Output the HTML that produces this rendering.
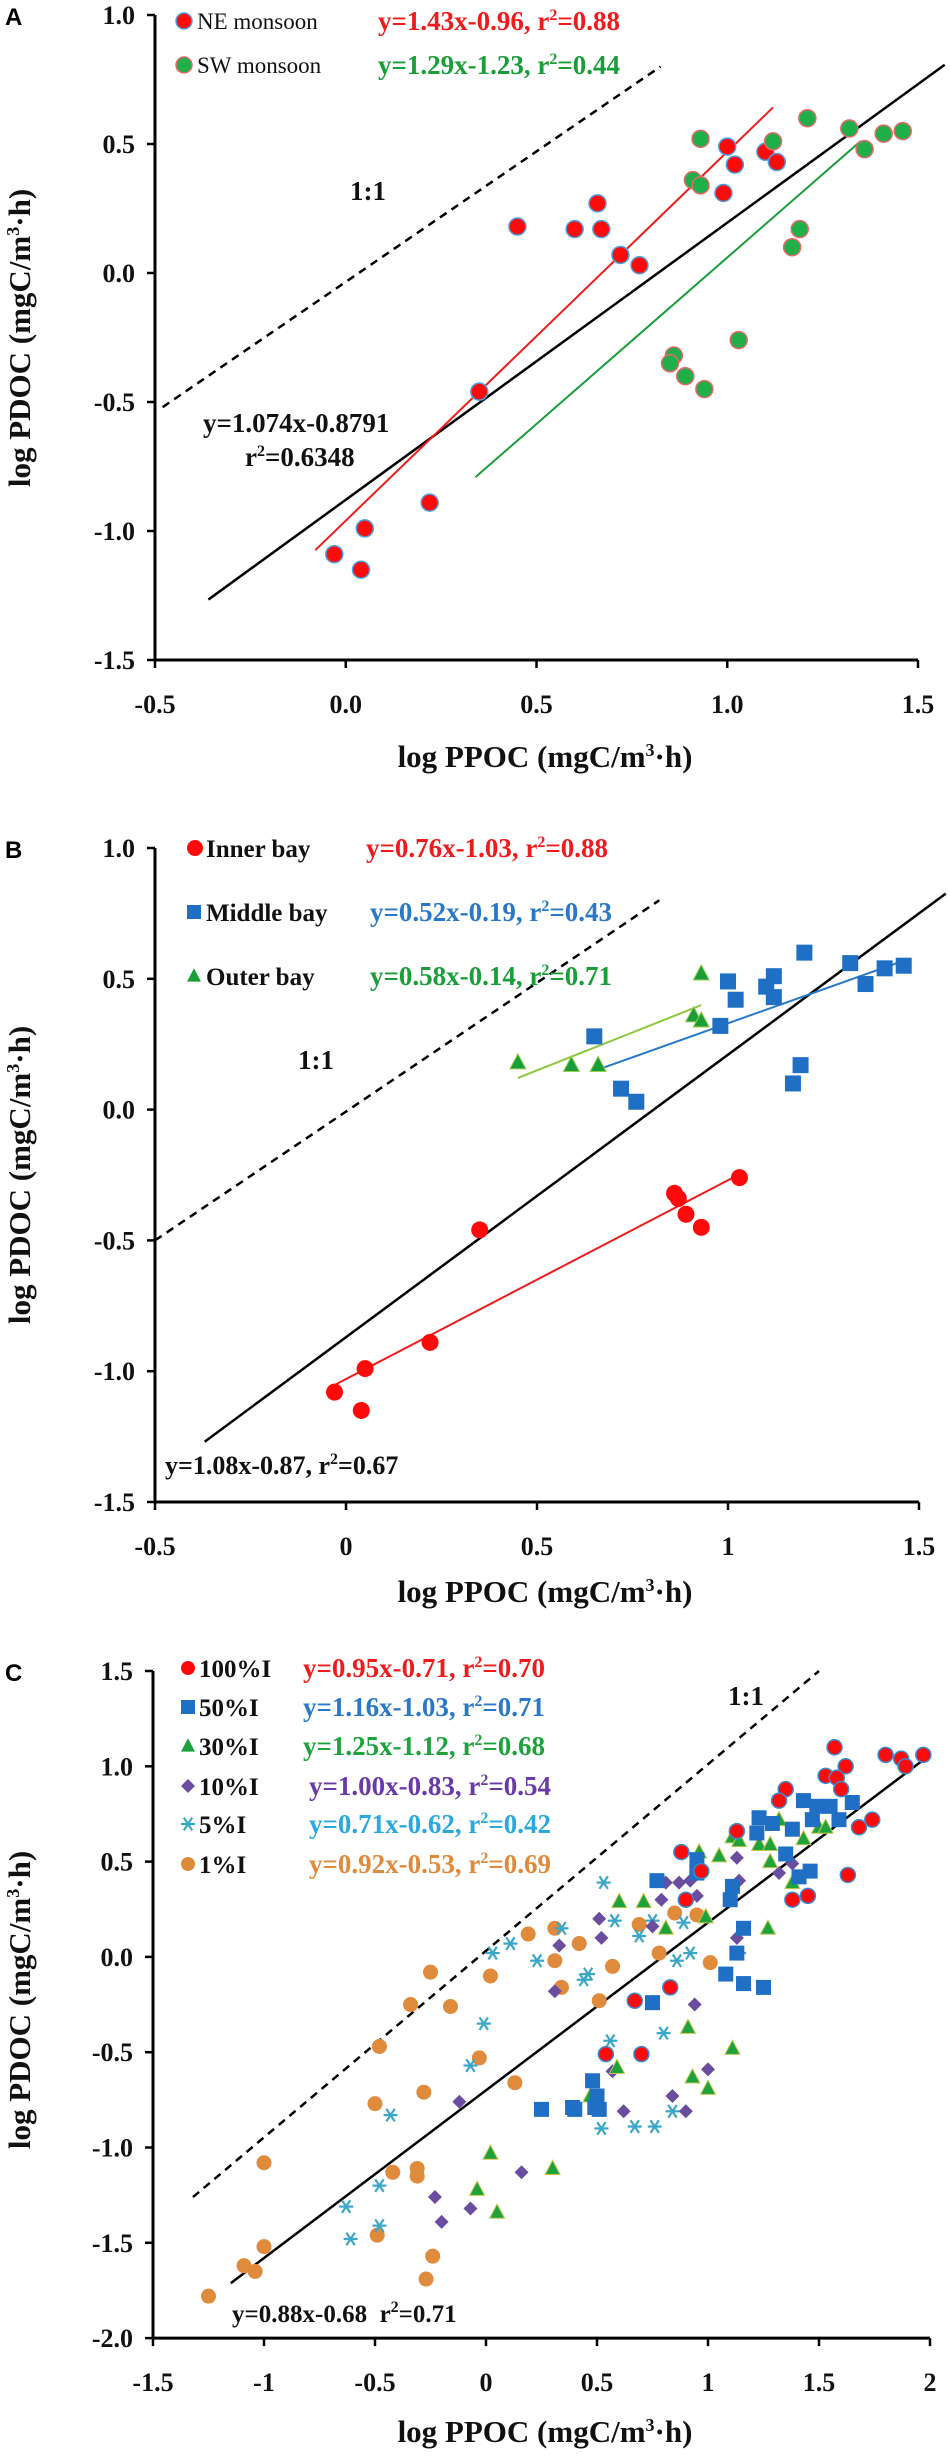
<!DOCTYPE html>
<html><head><meta charset="utf-8"><style>
html,body{margin:0;padding:0;background:#fff}
svg{display:block}
text{font-family:"Liberation Serif",serif}
.tk{font-weight:bold;font-size:26px;fill:#111}
.ttl{font-weight:bold;font-size:31px;fill:#111}
.lg{font-size:23px;fill:#111}
.lgb{font-weight:bold;font-size:25px;fill:#111}
.eq{font-weight:bold;font-size:27px}
.eqs{font-weight:bold;font-size:26px}
.pl{font-family:"Liberation Sans",sans-serif;font-weight:bold;font-size:24px;fill:#000}
</style></head><body>
<svg id="fig" width="950" height="2464" viewBox="0 0 950 2464" xmlns="http://www.w3.org/2000/svg"></svg>
<script>
// ---------- Panel A data ----------
const aNeX=[-0.03,0.04,0.05,0.22,0.35,0.45,0.60,0.66,0.67,0.72,0.77,0.99,1.00,1.02,1.10,1.13];
const aNeY=[-1.09,-1.15,-0.99,-0.89,-0.46,0.18,0.17,0.27,0.17,0.07,0.03,0.31,0.49,0.42,0.47,0.43];
const aSwX=[0.93,0.91,0.93,1.12,1.21,1.32,1.36,1.41,1.46,1.19,1.17,1.03,0.86,0.85,0.89,0.94];
const aSwY=[0.52,0.36,0.34,0.51,0.60,0.56,0.48,0.54,0.55,0.17,0.10,-0.26,-0.32,-0.35,-0.40,-0.45];
const aTicksX=["-0.5","0.0","0.5","1.0","1.5"];
const aTicksY=["-1.5","-1.0","-0.5","0.0","0.5","1.0"];
// ---------- Panel B data ----------
const bInX=[-0.03,0.04,0.05,0.22,0.35,0.86,0.87,0.89,0.93,1.03];
const bInY=[-1.08,-1.15,-0.99,-0.89,-0.46,-0.32,-0.34,-0.40,-0.45,-0.26];
const bMidX=[0.65,0.72,0.76,0.98,1.00,1.02,1.10,1.12,1.12,1.20,1.17,1.19,1.32,1.36,1.41,1.46];
const bMidY=[0.28,0.08,0.03,0.32,0.49,0.42,0.47,0.51,0.43,0.60,0.10,0.17,0.56,0.48,0.54,0.55];
const bOutX=[0.45,0.59,0.66,0.91,0.93,0.93];
const bOutY=[0.18,0.17,0.17,0.36,0.34,0.52];
const bTicksX=["-0.5","0","0.5","1","1.5"];
const bTicksY=["-1.5","-1.0","-0.5","0.0","0.5","1.0"];
// ---------- Panel C data ----------
const c100X=[1.57,1.80,1.87,1.89,1.97,1.53,1.62,1.58,1.60,1.35,1.32,1.13,0.88,1.74,1.68,1.63,1.45,1.38,0.83,0.67,0.54,0.70,0.97,0.90];
const c100Y=[1.10,1.06,1.04,1.00,1.06,0.95,1.00,0.94,0.88,0.88,0.82,0.66,0.55,0.72,0.68,0.43,0.32,0.30,-0.16,-0.23,-0.51,-0.51,0.45,0.30];
const c50X=[1.43,1.23,1.29,1.38,1.49,1.55,1.65,1.59,1.47,1.22,1.35,1.46,1.41,0.95,0.77,0.95,1.11,1.10,1.16,1.13,1.08,1.16,1.25,0.75,0.48,0.50,0.39,0.49,0.25,0.40,0.51];
const c50Y=[0.82,0.73,0.70,0.67,0.79,0.79,0.81,0.72,0.72,0.65,0.54,0.45,0.42,0.51,0.40,0.44,0.37,0.30,0.15,0.02,-0.09,-0.14,-0.16,-0.24,-0.65,-0.73,-0.79,-0.79,-0.80,-0.80,-0.80];
const c30X=[1.32,1.11,1.14,0.96,1.05,1.23,1.28,1.28,1.43,1.50,1.53,1.38,0.60,0.71,0.99,0.81,1.27,0.91,1.11,0.93,1.00,0.59,0.47,0.02,-0.04,0.05,0.30];
const c30Y=[0.72,0.63,0.61,0.55,0.53,0.59,0.59,0.50,0.62,0.68,0.68,0.39,0.29,0.29,0.21,0.15,0.15,-0.37,-0.48,-0.63,-0.69,-0.58,-0.73,-1.03,-1.22,-1.34,-1.11];
const c10X=[1.13,1.14,0.81,0.87,0.92,0.95,0.79,1.32,1.38,0.51,0.52,0.33,1.13,0.75,0.31,0.94,0.57,1.00,0.62,0.84,0.90,-0.12,0.16,-0.23,-0.07,-0.20];
const c10Y=[0.52,0.40,0.39,0.39,0.40,0.32,0.30,0.44,0.49,0.20,0.10,0.06,0.10,0.16,-0.18,-0.25,-0.60,-0.59,-0.81,-0.73,-0.81,-0.76,-1.13,-1.26,-1.32,-1.39];
const c5X=[0.53,0.58,0.69,0.89,0.75,0.34,0.92,0.86,0.44,0.46,1.14,0.80,0.56,0.03,0.11,0.23,-0.01,-0.07,0.52,0.67,0.76,0.84,-0.43,-0.63,-0.61,-0.48,-0.48];
const c5Y=[0.39,0.19,0.11,0.18,0.19,0.15,0.02,-0.02,-0.12,-0.09,0.02,-0.40,-0.44,0.02,0.07,-0.02,-0.35,-0.57,-0.90,-0.89,-0.89,-0.81,-0.83,-1.31,-1.48,-1.20,-1.41];
const c1X=[-1.25,-1.09,-1.04,-1.00,-1.00,-0.49,-0.42,-0.31,-0.31,-0.24,-0.27,-0.50,-0.28,-0.48,-0.03,0.13,-0.34,-0.16,-0.25,0.02,0.19,0.31,0.42,0.31,0.34,0.51,0.57,0.69,0.78,0.85,0.95,1.01];
const c1Y=[-1.78,-1.62,-1.65,-1.52,-1.08,-1.46,-1.13,-1.11,-1.15,-1.57,-1.69,-0.77,-0.71,-0.47,-0.53,-0.66,-0.25,-0.26,-0.08,-0.10,0.12,0.15,0.07,-0.02,-0.16,-0.23,-0.05,0.17,0.02,0.23,0.22,-0.03];
const cTicksX=["-1.5","-1","-0.5","0","0.5","1","1.5","2"];
const cTicksY=["-2.0","-1.5","-1.0","-0.5","0.0","0.5","1.0","1.5"];

const NS="http://www.w3.org/2000/svg";
const svg=document.getElementById('fig');
function mk(tag,attrs,parent,txt){const e=document.createElementNS(NS,tag);for(const k in attrs)e.setAttribute(k,attrs[k]);if(txt!==undefined)e.textContent=txt;(parent||svg).appendChild(e);return e;}

function panel(cfg){
  const g=mk('g',{});
  
  
  const sx=v=>cfg.x0+(v-cfg.xmin)*cfg.xs;
  const Y=v=>cfg.y0+(cfg.ymax-v)*cfg.ys;
  const base=Y(cfg.ymin);
  const ya=mk('line',{x1:cfg.x0,y1:Y(cfg.ymax),x2:cfg.x0,y2:base,stroke:'#000','stroke-width':3},g);
  
  const xa=mk('line',{x1:cfg.x0-1.5,y1:base,x2:sx(cfg.xmax),y2:base,stroke:'#000','stroke-width':3},g);
  
  cfg.ticksX.forEach((t,i)=>{const v=cfg.xmin+i*cfg.xstep;const x=sx(v);
    mk('line',{x1:x,y1:base,x2:x,y2:base+8,stroke:'#000','stroke-width':2.5},g);
    const tx=mk('text',{x:x,y:base+53,'text-anchor':'middle',class:'tk'},g,t);
    });
  cfg.ticksY.forEach((t,i)=>{const v=cfg.ymin+i*0.5;const y=Y(v);
    mk('line',{x1:cfg.x0-8,y1:y,x2:cfg.x0,y2:y,stroke:'#000','stroke-width':2.5},g);
    const ty=mk('text',{x:cfg.x0-20,y:y+9,'text-anchor':'end',class:'tk'},g,t);
    });
  const lt=mk('text',{x:cfg.xtx,y:cfg.xty,'text-anchor':'middle',class:'ttl'},g);
  
  lt.innerHTML='log PPOC (mgC/m<tspan dy="-11" font-size="18">3</tspan><tspan dy="11">·h)</tspan>';
  const yt=mk('text',{x:0,y:0,'text-anchor':'middle',class:'ttl',transform:`translate(${cfg.ytx},${cfg.yty}) rotate(-90)`},g);
  
  yt.innerHTML='log PDOC (mgC/m<tspan dy="-11" font-size="18">3</tspan><tspan dy="11">·h)</tspan>';
  const pl=mk('text',{x:cfg.lx,y:cfg.ly,class:'pl'},g,cfg.letter);
  
  return {g,sx,Y};
}
function line(p,x1,y1,x2,y2,col,w,dash,name){
  const l=mk('line',{x1:p.sx(x1),y1:p.Y(y1),x2:p.sx(x2),y2:p.Y(y2),stroke:col,'stroke-width':w},p.g);
  if(dash)l.setAttribute('stroke-dasharray',dash);
  
}
function fitLine(p,m,b,xa,xb,col,w,name){line(p,xa,m*xa+b,xb,m*xb+b,col,w,null,name);}
function marker(g,shape,x,y,s,fill,stroke,sw){
  let e;
  if(shape==='circle')e=mk('circle',{cx:x,cy:y,r:s,fill:fill,stroke:stroke||'none','stroke-width':sw||0},g);
  else if(shape==='square')e=mk('rect',{x:x-s,y:y-s,width:2*s,height:2*s,fill:fill,stroke:stroke||'none','stroke-width':sw||0},g);
  else if(shape==='tri')e=mk('polygon',{points:`${x},${y-s*1.1} ${x-s},${y+s*0.8} ${x+s},${y+s*0.8}`,fill:fill,stroke:stroke||'none','stroke-width':sw||0},g);
  else if(shape==='diamond')e=mk('polygon',{points:`${x},${y-s} ${x+s},${y} ${x},${y+s} ${x-s},${y}`,fill:fill,stroke:stroke||'none','stroke-width':sw||0},g);
  else if(shape==='star'){e=mk('g',{stroke:fill,'stroke-width':2.2},g);
    mk('line',{x1:x-s,y1:y,x2:x+s,y2:y},e);mk('line',{x1:x-s*0.6,y1:y-s*0.9,x2:x+s*0.6,y2:y+s*0.9},e);mk('line',{x1:x-s*0.6,y1:y+s*0.9,x2:x+s*0.6,y2:y-s*0.9},e);}
  return e;
}
function series(p,xs,ys,shape,s,fill,stroke,sw,name){
  xs.forEach((v,i)=>{const e=marker(p.g,shape,p.sx(v),p.Y(ys[i]),s,fill,stroke,sw);
    
    });
}
function txt(g,x,y,cls,col,s,name){const t=mk('text',{x:x,y:y,class:cls,fill:col},g);t.innerHTML=s;
  return t;}
const R2='r<tspan dy="-10" font-size="16">2</tspan><tspan dy="10">=</tspan>';

// ===== Panel A =====
const A=panel({name:'panel-a',x0:155,xmin:-0.5,xmax:1.5,xs:381.5,xstep:0.5,y0:15,ymax:1.0,ymin:-1.5,ys:258,
  ticksX:aTicksX,ticksY:aTicksY,xtx:545,xty:767,ytx:30,yty:338,letter:'A',lx:5,ly:25});
line(A,-0.48,-0.52,0.825,0.80,'#000',2.5,'8,6','one-to-one-line');
fitLine(A,1.074,-0.8791,-0.36,1.57,'#000',2.5,'overall-fit-line');
fitLine(A,1.43,-0.96,-0.08,1.12,'#ee1c1c',2,'ne-fit-line');
fitLine(A,1.29,-1.23,0.34,1.35,'#1a9e3a',2,'sw-fit-line');
series(A,aNeX,aNeY,'circle',8.5,'#ff0a0a','#4aa0e0',1.5,'ne-monsoon-point');
series(A,aSwX,aSwY,'circle',8.5,'#1fae48','#e36a6a',1.5,'sw-monsoon-point');
marker(A.g,'circle',184,21,8,'#ff0a0a','#4aa0e0',1.5);
marker(A.g,'circle',184,65,8,'#1fae48','#e36a6a',1.5);
txt(A.g,197,29,'lg','#111','NE monsoon','legend-ne');
txt(A.g,197,73,'lg','#111','SW monsoon','legend-sw');
txt(A.g,378,30,'eq','#ee1c1c','y=1.43x-0.96, '+R2+'0.88','ne-equation');
txt(A.g,378,74,'eq','#1a9e3a','y=1.29x-1.23, '+R2+'0.44','sw-equation');
txt(A.g,350,200,'eq','#111','1:1','one-to-one-label');
txt(A.g,203,432,'eq','#111','y=1.074x-0.8791','overall-equation');
txt(A.g,245,466,'eq','#111','r<tspan dy="-10" font-size="16">2</tspan><tspan dy="10">=0.6348</tspan>','overall-r2');

// ===== Panel B =====
const B=panel({name:'panel-b',x0:155,xmin:-0.5,xmax:1.5,xs:382,xstep:0.5,y0:848,ymax:1.0,ymin:-1.5,ys:261.6,
  ticksX:bTicksX,ticksY:bTicksY,xtx:545,xty:1602,ytx:30,yty:1175,letter:'B',lx:5,ly:858});
line(B,-0.5,-0.5,0.82,0.80,'#000',2.5,'8,6','one-to-one-line');
fitLine(B,1.08,-0.87,-0.37,1.57,'#000',2.5,'overall-fit-line');
fitLine(B,0.76,-1.03,-0.03,1.03,'#ee1c1c',2,'inner-fit-line');
fitLine(B,0.52,-0.19,0.66,1.46,'#2a78c8',2,'middle-fit-line');
fitLine(B,0.58,-0.14,0.45,0.93,'#8cc83c',2,'outer-fit-line');
series(B,bInX,bInY,'circle',8.5,'#ff0a0a',null,0,'inner-bay-point');
series(B,bMidX,bMidY,'square',8,'#1f6fc5',null,0,'middle-bay-point');
series(B,bOutX,bOutY,'tri',8,'#1a9e3a','#9ccf50',1,'outer-bay-point');
marker(B.g,'circle',195,848,8,'#ff0a0a');
marker(B.g,'square',194,912,7,'#1f6fc5');
marker(B.g,'tri',194,976,7,'#1a9e3a');
txt(B.g,206,857,'lgb','#111','Inner bay','legend-inner');
txt(B.g,206,921,'lgb','#111','Middle bay','legend-middle');
txt(B.g,206,985,'lgb','#111','Outer bay','legend-outer');
txt(B.g,366,857,'eq','#ee1c1c','y=0.76x-1.03, '+R2+'0.88','inner-equation');
txt(B.g,370,921,'eq','#2a78c8','y=0.52x-0.19, '+R2+'0.43','middle-equation');
txt(B.g,370,985,'eq','#1a9e3a','y=0.58x-0.14, '+R2+'0.71','outer-equation');
txt(B.g,298,1069,'eq','#111','1:1','one-to-one-label');
txt(B.g,165,1474,'eqs','#111','y=1.08x-0.87, '+R2+'0.67','overall-equation');

// ===== Panel C =====
const C=panel({name:'panel-c',x0:153,xmin:-1.5,xmax:2.0,xs:222,xstep:0.5,y0:1671,ymax:1.5,ymin:-2.0,ys:190.6,
  ticksX:cTicksX,ticksY:cTicksY,xtx:545,xty:2442,ytx:30,yty:2000,letter:'C',lx:5,ly:1681});
line(C,-1.32,-1.26,1.5,1.5,'#000',2.5,'8,6','one-to-one-line');
fitLine(C,0.88,-0.70,-1.15,2.0,'#000',2.5,'overall-fit-line');
series(C,c1X,c1Y,'circle',7.5,'#e08a3c',null,0,'point-1pct');
series(C,c5X,c5Y,'star',7,'#3aa6c8',null,0,'point-5pct');
series(C,c10X,c10Y,'diamond',7,'#6a4d9e',null,0,'point-10pct');
series(C,c30X,c30Y,'tri',7.5,'#1ea23c','#c8c850',1,'point-30pct');
series(C,c50X,c50Y,'square',7.5,'#1f6fc5',null,0,'point-50pct');
series(C,c100X,c100Y,'circle',7.5,'#ff0a0a','#3a8ad0',1.5,'point-100pct');
const legC=[['circle','#ff0a0a','100%I','#ee1c1c','y=0.95x-0.71, '+R2+'0.70',303],
 ['square','#1f6fc5','50%I','#2a78c8','y=1.16x-1.03, '+R2+'0.71',303],
 ['tri','#1ea23c','30%I','#1ea23c','y=1.25x-1.12, '+R2+'0.68',303],
 ['diamond','#6a4d9e','10%I','#6a3aa8','y=1.00x-0.83, '+R2+'0.54',309],
 ['star','#3aa6c8','5%I','#2aa8e0','y=0.71x-0.62, '+R2+'0.42',309],
 ['circle','#e08a3c','1%I','#e08a3c','y=0.92x-0.53, '+R2+'0.69',309]];
const legYs=[1668,1707,1746,1786,1824,1864];
legC.forEach((L,i)=>{const y=legYs[i];
  const m=marker(C.g,L[0],188,y,7,L[1]);
  txt(C.g,199,y+9,'lgb','#111',L[2],'legend-label');
  txt(C.g,L[5],y+9,'eq',L[3],L[4],'legend-equation');});
txt(C.g,728,1705,'eq','#111','1:1','one-to-one-label');
txt(C.g,232,2322,'lgb','#111','y=0.88x-0.68&#160;&#160;'+R2+'0.71','overall-equation');
</script>
</body></html>
